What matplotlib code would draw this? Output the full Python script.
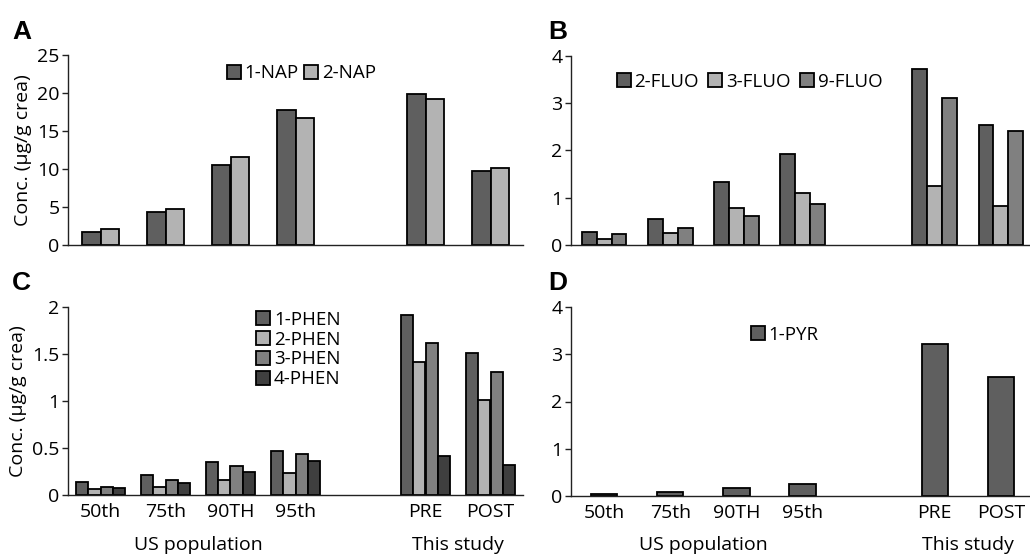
import numpy as np
import matplotlib.pyplot as plt
from matplotlib.patches import Patch
from matplotlib.transforms import blended_transform_factory

plt.rcParams['font.family'] = ['Open Sans', 'DejaVu Sans']

groups = ['50th', '75th', '90TH', '95th', 'PRE', 'POST']
xpos = [0, 1, 2, 3, 5, 6]

# panel A: naphthols
nap_names = ['1-NAP', '2-NAP']
nap_1 = [1.65, 4.3, 10.5, 17.8, 19.9, 9.7]
nap_2 = [2.05, 4.8, 11.6, 16.75, 19.2, 10.1]

# panel B: hydroxyfluorenes
fluo_names = ['2-FLUO', '3-FLUO', '9-FLUO']
fluo_2 = [0.27, 0.54, 1.33, 1.92, 3.72, 2.53]
fluo_3 = [0.13, 0.25, 0.78, 1.09, 1.25, 0.83]
fluo_9 = [0.23, 0.37, 0.61, 0.87, 3.12, 2.42]

# panel C: hydroxyphenanthrenes
phen_names = ['1-PHEN', '2-PHEN', '3-PHEN', '4-PHEN']
phen_1 = [0.14, 0.21, 0.35, 0.47, 1.92, 1.51]
phen_2 = [0.06, 0.09, 0.16, 0.23, 1.41, 1.01]
phen_3 = [0.09, 0.16, 0.31, 0.44, 1.62, 1.31]
phen_4 = [0.07, 0.13, 0.25, 0.36, 0.42, 0.32]

# panel D: 1-hydroxypyrene
pyr_names = ['1-PYR']
pyr_1 = [0.04, 0.08, 0.17, 0.26, 3.21, 2.51]

DARK = '#5f5f5f'
LIGHT = '#b3b3b3'
MID = '#808080'
DARKEST = '#3f3f3f'
FS = 14

W, H = 1030, 556
fig = plt.figure(figsize=(W / 100, H / 100), dpi=100)


def make_ax(left, top, right, bottom):
    return fig.add_axes([left / W, 1 - bottom / H, (right - left) / W, (bottom - top) / H])


def draw(ax, series, colors, width, ymax, yticks, yfmt):
    n = len(series)
    for i, (vals, col) in enumerate(zip(series, colors)):
        off = (i - (n - 1) / 2) * width
        ax.bar(np.array(xpos) + off, vals, width, color=col, edgecolor='black', linewidth=1.3, zorder=2)
    ax.set_xlim(-0.5, 6.5)
    ax.set_ylim(0, ymax)
    ax.set_yticks(yticks)
    ax.set_yticklabels([yfmt(t) for t in yticks], fontsize=FS)
    for s in ['top', 'right']:
        ax.spines[s].set_visible(False)
    for s in ['left', 'bottom']:
        ax.spines[s].set_linewidth(1.0)
        ax.spines[s].set_color('#222222')
    ax.tick_params(axis='y', direction='out', length=4, width=1, pad=2, colors='#222222', labelcolor='black')
    ax.tick_params(axis='x', length=0)


def handles(names, colors):
    return [Patch(facecolor=c, edgecolor='black', linewidth=1.3, label=n) for n, c in zip(names, colors)]


def fmt_int(t):
    return '%d' % t


def fmt_half(t):
    return '%g' % t


leg_kw = dict(frameon=False, fontsize=13.5, handlelength=0.75, handleheight=0.75,
              handletextpad=0.2, borderpad=0.2)

# A
axA = make_ax(68, 55, 523, 245)
draw(axA, [nap_1, nap_2], [DARK, LIGHT], 0.29, 25, [0, 5, 10, 15, 20, 25], fmt_int)
axA.set_xticks([])
axA.set_ylabel('Conc. (\u00b5g/g crea)', fontsize=FS, labelpad=4)
axA.legend(handles=handles(nap_names, [DARK, LIGHT]), loc='upper left', bbox_to_anchor=(0.32, 1.02),
           ncol=2, columnspacing=0.3, **leg_kw)

# B
axB = make_ax(571, 56, 1034, 245)
draw(axB, [fluo_2, fluo_3, fluo_9], [DARK, LIGHT, MID], 0.225, 4, [0, 1, 2, 3, 4], fmt_int)
axB.set_xticks([])
axB.legend(handles=handles(fluo_names, [DARK, LIGHT, MID]), loc='upper left', bbox_to_anchor=(0.07, 0.98),
           ncol=3, columnspacing=0.5, **leg_kw)

# C
axC = make_ax(68, 307, 523, 495)
draw(axC, [phen_1, phen_2, phen_3, phen_4], [DARK, LIGHT, MID, DARKEST], 0.185, 2,
     [0, 0.5, 1, 1.5, 2], fmt_half)
axC.set_ylabel('Conc. (\u00b5g/g crea)', fontsize=FS, labelpad=4)
axC.legend(handles=handles(phen_names, [DARK, LIGHT, MID, DARKEST]), loc='upper left',
           bbox_to_anchor=(0.385, 1.05), ncol=1, labelspacing=0.1, **leg_kw)

# D
axD = make_ax(571, 307, 1034, 496)
draw(axD, [pyr_1], [DARK], 0.4, 4, [0, 1, 2, 3, 4], fmt_int)
axD.legend(handles=handles(pyr_names, [DARK]), loc='upper left', bbox_to_anchor=(0.36, 0.97), **leg_kw)

for ax in [axC, axD]:
    ax.set_xticks(xpos)
    ax.set_xticklabels(groups, fontsize=FS)
    ax.tick_params(axis='x', pad=6)
    tr = blended_transform_factory(ax.transData, fig.transFigure)
    ax.text(1.5, 1 - 545 / H, 'US population', transform=tr, ha='center', va='center', fontsize=FS)
    ax.text(5.5, 1 - 545 / H, 'This study', transform=tr, ha='center', va='center', fontsize=FS)

for lab, x, y in [('A', 12, 32), ('B', 548, 32), ('C', 12, 283), ('D', 548, 283)]:
    fig.text(x / W, 1 - y / H, lab, fontsize=19, fontweight='bold', family='Liberation Sans',
             ha='left', va='center')

fig.savefig('out.png', dpi=100)
